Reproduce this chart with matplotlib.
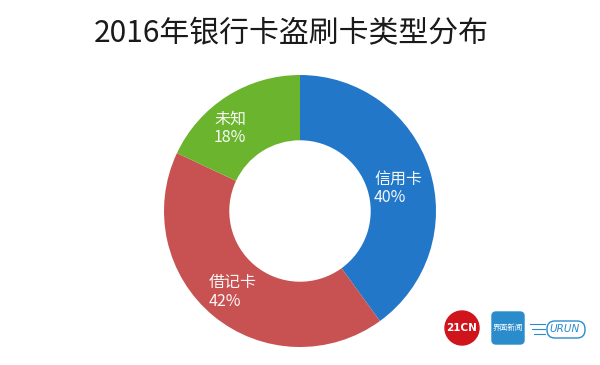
import matplotlib
matplotlib.use("Agg")
import matplotlib.pyplot as plt
from matplotlib.patches import Circle, FancyBboxPatch

plt.rcParams['font.family'] = ['Noto Sans CJK SC', 'DejaVu Sans']

title = "2016年银行卡盗刷卡类型分布"
categories = ["信用卡", "借记卡", "未知"]
values = [40, 42, 18]
colors = ["#2277C8", "#C85251", "#6BB42E"]
label_pos = [(374, 188), (209, 292), (214, 128)]  # left anchors in px (y from top)

fig = plt.figure(figsize=(6, 3.65), dpi=100)
ax = fig.add_axes([0, 0, 1, 1])

cx, cy, r = 300, 365 - 211, 136
ax.pie(values, colors=colors, startangle=90, counterclock=False,
       center=(cx, cy), radius=r,
       wedgeprops=dict(width=r * 0.48, edgecolor='none'))
ax.set_xlim(0, 600)
ax.set_ylim(0, 365)
ax.set_aspect('equal')
ax.axis('off')

for cat, v, (x, y) in zip(categories, values, label_pos):
    ax.text(x, 365 - y, f"{cat}\n{v}%", color="white", fontsize=11.5,
            ha='left', va='center', linespacing=1.1, alpha=0.95)

fig.text(0.485, 1 - 34 / 365, title, ha='center', va='center',
         fontsize=21.5, color='#1a1a1a')

# logos
ax.add_patch(Circle((462, 365 - 328), 17, color="#D0141C"))
ax.text(462, 365 - 328, "21CN", color="white", fontsize=7.5, fontweight='bold',
        ha='center', va='center', family='DejaVu Sans')
ax.add_patch(FancyBboxPatch((492, 365 - 344), 32, 32,
                            boxstyle="round,pad=0,rounding_size=4", color="#2A8CCB"))
ax.text(508, 365 - 328, "界面新闻", color="white", fontsize=5.5,
        ha='center', va='center')
ax.text(565, 365 - 329, "URUN", color="#2A8CCB", fontsize=7.5, style='italic',
        ha='center', va='center', family='DejaVu Sans')
ax.add_patch(FancyBboxPatch((547, 365 - 338), 38, 17,
                            boxstyle="round,pad=0,rounding_size=8", fill=False,
                            edgecolor="#2A8CCB", linewidth=1))
for i, yy in enumerate([324, 329, 334]):
    ax.plot([530 + 2 * i, 545], [365 - yy, 365 - yy], color="#2A8CCB", lw=0.8)

fig.savefig("out.png", dpi=100, facecolor='white')
